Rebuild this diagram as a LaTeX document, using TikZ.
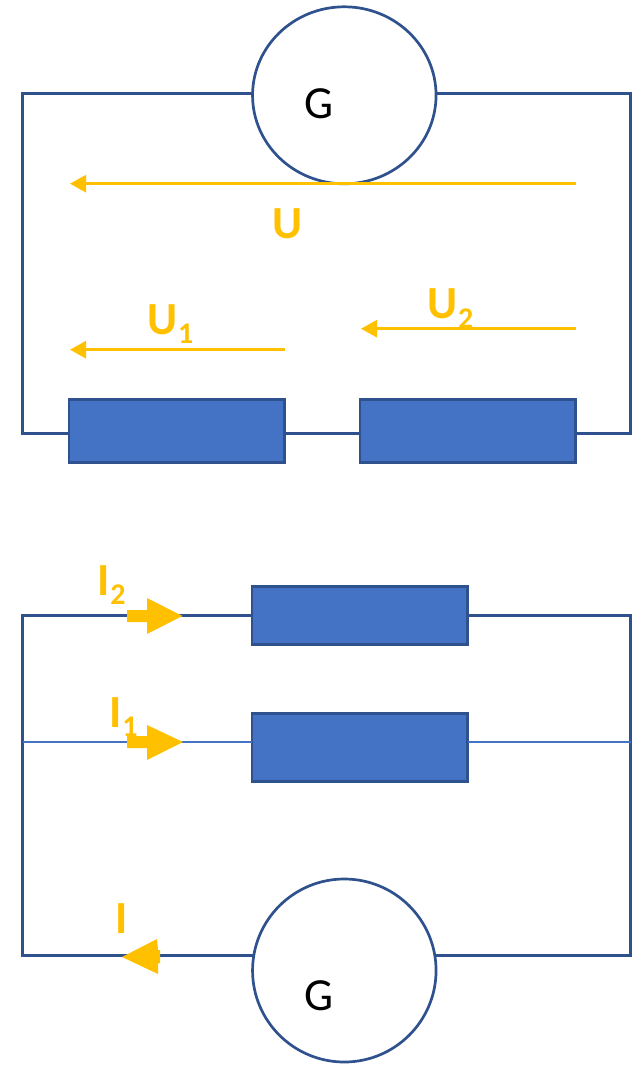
\documentclass[tikz,border=0pt]{standalone}
\usepackage{fontspec}
\setmainfont{Carlito}
\usetikzlibrary{arrows.meta,shapes.geometric}
\definecolor{wireblue}{HTML}{2F528F}
\definecolor{fillblue}{HTML}{4472C4}
\definecolor{amber}{HTML}{FFC000}
\newcommand{\lbl}[2]{{\fontsize{46}{46}\selectfont\bfseries #1\raisebox{-9.5pt}{\fontsize{30}{30}\selectfont\bfseries #2}}}
\tikzset{
  wire/.style={draw=wireblue,line width=2.7pt},
  thinwire/.style={draw=fillblue,line width=1.2pt},
  res/.style={draw=wireblue,fill=fillblue,line width=2.8pt,inner sep=0pt,outer sep=0pt,rectangle},
  gen/.style={draw=wireblue,fill=white,line width=2.7pt,ellipse,inner sep=0pt,outer sep=0pt},
  gtext/.style={font=\fontsize{46}{46}\selectfont,text=black,inner sep=0pt,anchor=base},
  alabel/.style={text=amber,inner sep=0pt,anchor=base west},
  volt/.style={draw=amber,line width=2.8pt,-{Triangle[length=16pt,width=17pt]}},
  block/.style={fill=amber,draw=none}
}
\begin{document}
\begin{tikzpicture}[x=1pt,y=-1pt]
\useasboundingbox (0,0) rectangle (635,1065);
% upper circuit
\node[gen,minimum width=183.5pt,minimum height=177pt] (g1) at (344.3,95.3) {};
\node[res,minimum width=215.5pt,minimum height=63pt] (r1) at (176.8,431) {};
\node[res,minimum width=215.5pt,minimum height=63pt] (r2) at (467.8,431) {};
\coordinate (tl) at (22.8,93.7);
\coordinate (tr) at (630.8,93.7);
\coordinate (bl) at (22.8,433.7);
\coordinate (br) at (630.8,433.7);
\draw[wire,line join=miter] (g1.180 |- tl) -- (tl) -- (bl) -- (bl -| r1.west);
\draw[wire,line join=miter] (g1.0 |- tr) -- (tr) -- (br) -- (br -| r2.east);
\draw[wire] (bl -| r1.east) -- (bl -| r2.west);
\node[gtext] (gl1) at (319.3,118.5) {G};
% upper voltage arrows
\coordinate (us) at (576,183.7);
\coordinate (ue) at (70,183.7);
\coordinate (u1s) at (285,349.7);
\coordinate (u1e) at (70,349.7);
\coordinate (u2s) at (576,328.7);
\coordinate (u2e) at (361,328.7);
\draw[volt] (us) -- (ue);
\draw[volt] (u1s) -- (u1e);
\draw[volt] (u2s) -- (u2e);
\node[alabel] (lu) at (272.5,238) {\lbl{U}{}};
\node[alabel] (lu1) at (147,334) {\lbl{U}{\kern1pt 1}};
\node[alabel] (lu2) at (427,318.5) {\lbl{U}{\kern1pt 2}};
% lower circuit
\node[gen,minimum width=183.5pt,minimum height=183pt] (g2) at (344.3,970.5) {};
\node[res,minimum width=215.5pt,minimum height=58pt] (r3) at (359.8,615.8) {};
\node[res,minimum width=215.5pt,minimum height=68pt] (r4) at (359.8,747.8) {};
\coordinate (ltl) at (22.8,615.8);
\coordinate (ltr) at (630.8,615.8);
\coordinate (lbl) at (22.8,955.8);
\coordinate (lbr) at (630.8,955.8);
\coordinate (ml) at (22.8,742);
\coordinate (mr) at (630.8,742);
\draw[wire,line join=miter] (r3.west) -- (ltl) -- (lbl) -- (lbl -| g2.171);
\draw[wire,line join=miter] (r3.east) -- (ltr) -- (lbr) -- (lbr -| g2.9);
\draw[thinwire] (ml) -- (ml -| r4.west);
\draw[thinwire] (r4.east |- mr) -- (mr);
\node[gtext] (gl2) at (319.3,1010.5) {G};
% lower current labels and arrows
\node[alabel] (li2) at (97,595) {\lbl{I}{\kern1pt 2}};
\node[alabel] (li1) at (109,727) {\lbl{I}{\kern1pt 1}};
\node[alabel] (li) at (115,933) {\lbl{I}{}};
\fill[block] (127,610) -- (147,610) -- (147,598) -- (182.5,616) -- (147,634) -- (147,622) -- (127,622) -- cycle;
\fill[block] (127,736) -- (147,736) -- (147,725) -- (183,742) -- (147,760) -- (147,748) -- (127,748) -- cycle;
\fill[block] (122,957) -- (157,939) -- (158,950) -- (160,950) -- (160,963) -- (158,963) -- (158,974) -- cycle;
\end{tikzpicture}
\end{document}
